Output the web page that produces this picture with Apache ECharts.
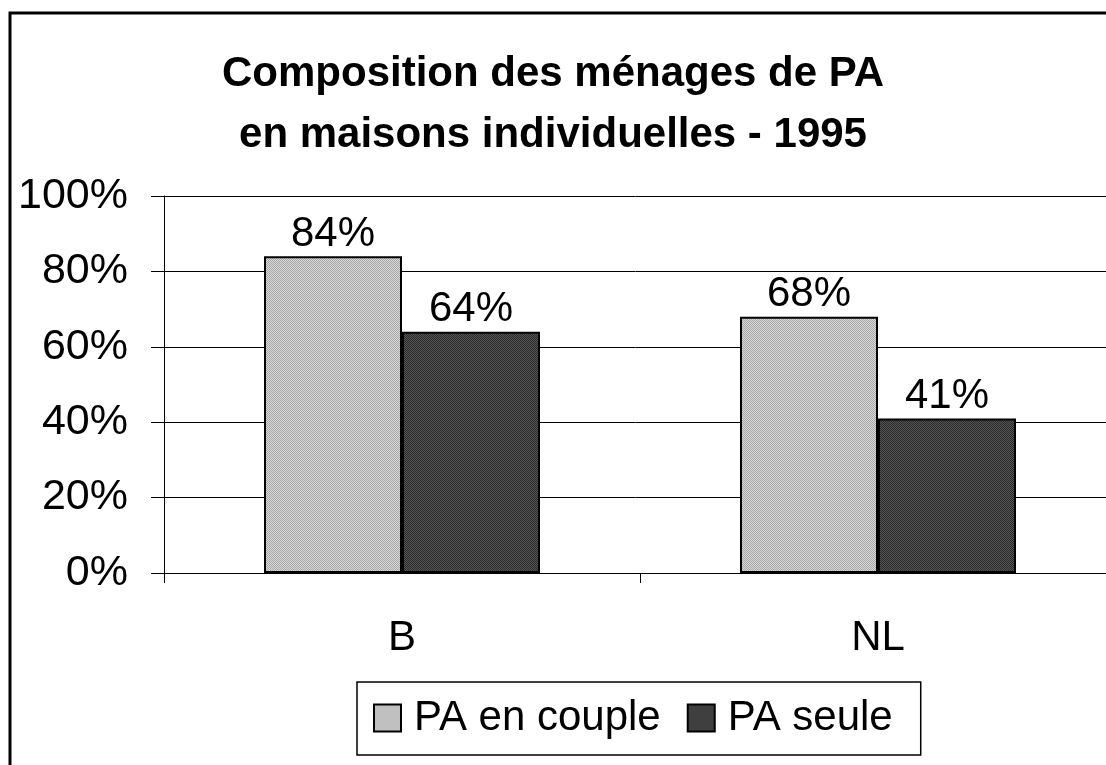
<!DOCTYPE html>
<html>
<head>
<meta charset="utf-8">
<script src="https://cdn.jsdelivr.net/npm/echarts@6/dist/echarts.min.js"></script>
<style>
  html, body { margin: 0; padding: 0; background: #fff; }
  #chart { width: 1106px; height: 765px; }
</style>
</head>
<body>
<div id="chart"></div>
<script>
const categories = ['B', 'NL'];
const enCouple = [84, 68];
const seule = [64, 41];
const yTicks = [0, 20, 40, 60, 80, 100];
const titleLines = ['Composition des ménages de PA', 'en maisons individuelles - 1995'];

// petit motif tramé comme dans Excel
const makeDither = (c1, c2) => {
    const cv = document.createElement('canvas');
    cv.width = 2; cv.height = 2;
    const ctx = cv.getContext('2d');
    ctx.fillStyle = c1; ctx.fillRect(0, 0, 2, 2);
    ctx.fillStyle = c2; ctx.fillRect(0, 0, 1, 1); ctx.fillRect(1, 1, 1, 1);
    return { image: cv, repeat: 'repeat' };
};

const chart = echarts.init(document.getElementById('chart'));
const font = '"Liberation Sans", Arial, sans-serif';
const fs = 42;

const titleText = (txt, y) => ({
    type: 'text',
    x: 553,
    y: y,
    silent: true,
    style: {
        text: txt, x: 0, y: 0,
        textAlign: 'center', textVerticalAlign: 'middle',
        font: 'bold 42px ' + font, fill: '#000'
    }
});

const option = {
    animation: false,
    backgroundColor: '#fff',
    textStyle: { fontFamily: font, color: '#000' },
    graphic: [
        {
            type: 'rect',
            shape: { x: 10, y: 13, width: 1200, height: 800 },
            style: { fill: 'none', stroke: '#000', lineWidth: 3 },
            silent: true
        },
        titleText(titleLines[0], 74),
        titleText(titleLines[1], 135)
    ],
    legend: {
        left: 357,
        top: 682,
        padding: [15, 28, 16, 16],
        borderColor: '#000',
        borderWidth: 1.5,
        icon: 'rect',
        itemWidth: 27,
        itemHeight: 27,
        itemGap: 26,
        textStyle: { fontSize: fs, color: '#000', fontFamily: font, padding: [0, 0, 0, 8] },
        data: ['PA en couple', 'PA seule']
    },
    grid: { left: 164, top: 196, width: 952, height: 377, outerBoundsMode: 'none' },
    xAxis: {
        type: 'category',
        data: categories,
        axisLine: { lineStyle: { color: '#000', width: 1 } },
        axisTick: { show: true, length: 10, lineStyle: { color: '#000' } },
        axisLabel: { fontSize: fs, color: '#000', margin: 44, fontFamily: font }
    },
    yAxis: {
        type: 'value',
        min: yTicks[0],
        max: yTicks[yTicks.length - 1],
        interval: 20,
        axisLine: { show: true, lineStyle: { color: '#000', width: 1 } },
        axisTick: { show: true, length: 13, lineStyle: { color: '#000' } },
        splitLine: { lineStyle: { color: '#000', width: 1 } },
        axisLabel: { fontSize: 43, color: '#000', margin: 36, formatter: '{value}%', fontFamily: font }
    },
    series: [
        {
            name: 'PA en couple',
            type: 'bar',
            data: enCouple,
            barWidth: 138,
            barGap: '0%',
            itemStyle: { color: makeDither('#d8d8d8', '#a8a8a8'), borderColor: '#000', borderWidth: 2 },
            label: { show: true, position: 'top', distance: 1, formatter: '{c}%', fontSize: fs, color: '#000', fontFamily: font }
        },
        {
            name: 'PA seule',
            type: 'bar',
            data: seule,
            barWidth: 138,
            itemStyle: { color: makeDither('#555555', '#2a2a2a'), borderColor: '#000', borderWidth: 2 },
            label: { show: true, position: 'top', distance: 1, formatter: '{c}%', fontSize: fs, color: '#000', fontFamily: font }
        }
    ]
};
chart.setOption(option);
window.addEventListener('resize', () => chart.resize());
</script>
</body>
</html>
